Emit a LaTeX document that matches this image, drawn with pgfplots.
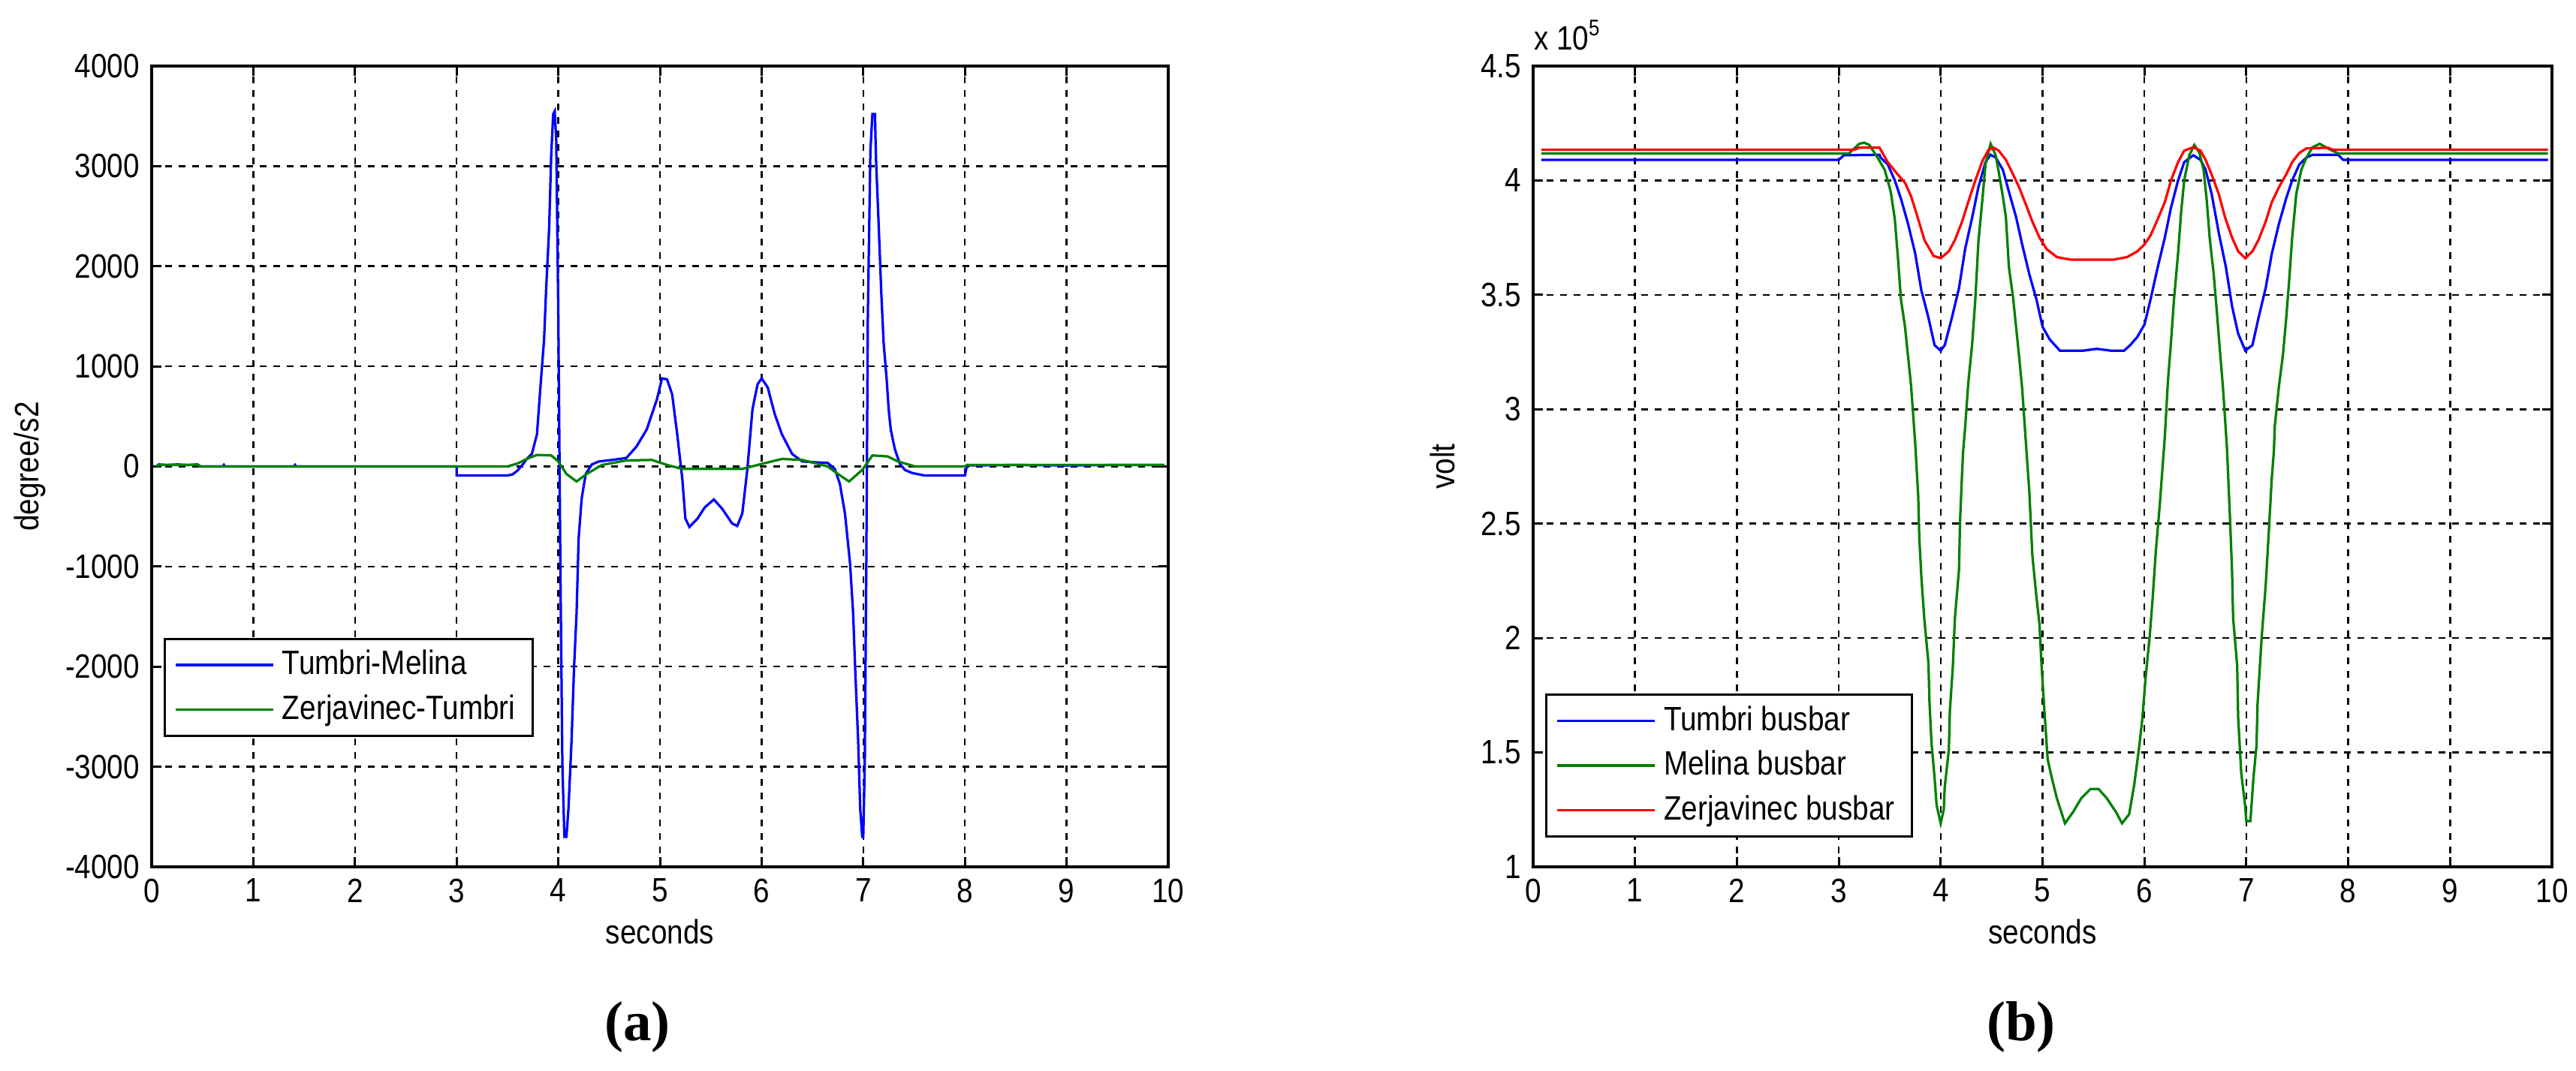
\documentclass[border=0pt]{standalone}
\usepackage{pgfplots}
\pgfplotsset{compat=1.18}
\usepackage{fontspec}
\setmainfont{Liberation Sans}[FakeStretch=0.86]
\newfontfamily\capfont{Liberation Serif}
\definecolor{mblue}{RGB}{0,0,255}
\definecolor{mgreen}{RGB}{0,128,0}
\definecolor{mred}{RGB}{255,0,0}
\pgfplotsset{
 mstyle/.style={
  scale only axis, anchor=south west,
  height=213.4pt,
  xmin=0, xmax=10, xtick={0,1,...,10},
  tick align=inside, tick pos=both,
  major tick length=2.6pt,
  grid=major,
  major grid style={black, line width=0.5pt, dash pattern=on 1.8pt off 1.8pt},
  axis line style={line width=0.7pt},
  every tick/.style={black, line width=0.6pt},
  /pgf/number format/assume math mode=true,
  /pgf/number format/1000 sep={},
  xlabel={seconds},
  xlabel style={at={(axis description cs:0.5,0)}, anchor=center, yshift=-17.2pt},
  legend cell align=left,
  legend image code/.code={\draw[##1] (0pt,0pt) -- (26pt,0pt);},
  legend style={draw=black, line width=0.6pt, fill=white, inner xsep=2.6pt, inner ysep=1pt, anchor=north west,
     nodes={inner sep=2pt, text depth=0.15em}},
 }
}
\begin{document}
\fontsize{9}{11}\selectfont
\begin{tikzpicture}
\useasboundingbox (0,0) rectangle (686.2pt,285.4pt);
% ---------------- (a) ----------------
\begin{axis}[mstyle, name=A, at={(40.4pt,54.4pt)}, width=270.8pt,
  ymin=-4000, ymax=4000, ytick={-4000,-3000,...,4000},
  ylabel={degree/s2},
  ylabel style={at={([xshift=-32.4pt]axis description cs:0,0.5)}, anchor=center},
  legend style={at={(rel axis cs:0.012,0.286)}}]
\addplot[mblue, line width=0.65pt] coordinates {
(0.05,0) (0.07,20) (0.15,15) (0.25,20) (0.35,15) (0.45,20) (0.48,0) (0.7,0) (0.71,15) (0.72,0)
(1.4,0) (1.41,15) (1.42,0) (3.0,0) (3.0,-90) (3.5,-90) (3.55,-80) (3.6,-40) (3.65,20)
(3.69,75) (3.74,125) (3.79,320) (3.83,870) (3.86,1265) (3.88,1760) (3.91,2380) (3.93,3100)
(3.95,3520) (3.965,3550) (3.98,3250) (4.0,1540) (4.02,-940) (4.04,-2980) (4.06,-3700)
(4.08,-3700) (4.1,-3420) (4.13,-2750) (4.155,-2010) (4.18,-1460) (4.2,-720) (4.23,-320)
(4.27,-75) (4.33,20) (4.4,50) (4.53,65) (4.67,85) (4.77,200) (4.87,370) (4.97,670) (5.02,880)
(5.07,870) (5.12,720) (5.17,320) (5.22,-125) (5.25,-520) (5.29,-605) (5.37,-520) (5.44,-410)
(5.53,-330) (5.61,-420) (5.71,-570) (5.76,-595) (5.81,-470) (5.86,-25) (5.91,570) (5.96,820)
(6.0,880) (6.06,790) (6.13,520) (6.2,320) (6.3,125) (6.4,50) (6.55,40) (6.65,35) (6.72,-25)
(6.77,-175) (6.82,-470) (6.87,-970) (6.9,-1460) (6.92,-2010) (6.95,-2750) (6.97,-3420)
(6.99,-3700) (7.0,-3700) (7.015,-2950) (7.03,-970) (7.045,1510) (7.07,3150) (7.09,3520)
(7.115,3520) (7.125,3080) (7.152,2400) (7.177,1740) (7.2,1240) (7.23,870) (7.25,570)
(7.27,370) (7.31,175) (7.36,25) (7.41,-35) (7.48,-65) (7.6,-90) (8.0,-90) (8.02,10)
(8.5,15) (9.0,10) (9.5,15) (9.96,15)
};
\addlegendentry{Tumbri-Melina}
\addplot[mgreen, line width=0.65pt] coordinates {
(0.05,0) (0.07,15) (0.45,15) (0.48,0) (3.5,0) (3.6,30) (3.69,75) (3.79,115) (3.93,110)
(4.0,50) (4.08,-75) (4.18,-150) (4.28,-75) (4.43,15) (4.67,60) (4.92,65) (5.07,15)
(5.22,-25) (5.81,-25) (6.0,25) (6.2,75) (6.4,65) (6.65,0) (6.75,-75) (6.86,-150) (6.99,-35)
(7.09,110) (7.24,100) (7.34,50) (7.51,0) (8.0,0) (8.02,15) (9.96,15)
};
\addlegendentry{Zerjavinec-Tumbri}
\end{axis}
% ---------------- (b) ----------------
\begin{axis}[mstyle, name=B, at={(408.4pt,54.4pt)}, width=271.4pt,
  ymin=1, ymax=4.5, ytick={1,1.5,...,4.5},
  ylabel={volt},
  ylabel style={at={([xshift=-24.2pt]axis description cs:0,0.5)}, anchor=center},
  legend style={at={(rel axis cs:0.012,0.216)}}]
\addplot[mblue, line width=0.65pt] coordinates {
(0.08,4.09) (3.0,4.09) (3.05,4.11) (3.4,4.112) (3.41,4.10) (3.48,4.07) (3.55,4.0) (3.61,3.92)
(3.68,3.81) (3.75,3.68) (3.81,3.52) (3.88,3.40) (3.94,3.28) (4.0,3.256) (4.04,3.28)
(4.11,3.40) (4.18,3.53) (4.24,3.70) (4.31,3.84) (4.37,3.97) (4.44,4.08) (4.49,4.112)
(4.54,4.10) (4.61,4.047) (4.67,3.95) (4.74,3.84) (4.8,3.72) (4.87,3.59) (4.94,3.48) (5.0,3.36)
(5.07,3.305) (5.17,3.256) (5.4,3.256) (5.53,3.264) (5.67,3.256) (5.8,3.256) (5.86,3.28)
(5.93,3.316) (6.0,3.37) (6.06,3.48) (6.13,3.62) (6.2,3.75) (6.26,3.88) (6.33,4.0) (6.39,4.08)
(6.48,4.11) (6.55,4.09) (6.6,4.047) (6.66,3.94) (6.73,3.77) (6.8,3.62) (6.86,3.45) (6.92,3.33)
(6.99,3.256) (7.06,3.28) (7.12,3.40) (7.19,3.53) (7.25,3.68) (7.32,3.81) (7.39,3.92)
(7.45,4.0) (7.52,4.07) (7.59,4.10) (7.65,4.112) (7.9,4.112) (7.95,4.09) (9.96,4.09)
};
\addlegendentry{Tumbri busbar}
\addplot[mgreen, line width=0.65pt] coordinates {
(0.08,4.118) (3.1,4.118) (3.2,4.16) (3.25,4.165) (3.3,4.155) (3.38,4.10) (3.45,4.047) (3.48,4.0)
(3.51,3.95) (3.55,3.83) (3.58,3.665) (3.61,3.48) (3.65,3.36) (3.68,3.23) (3.71,3.10)
(3.75,2.85) (3.78,2.617) (3.79,2.44) (3.81,2.27) (3.84,2.08) (3.88,1.89) (3.89,1.72)
(3.91,1.54) (3.94,1.39) (3.96,1.27) (4.0,1.19) (4.03,1.25) (4.04,1.35) (4.08,1.51) (4.09,1.68)
(4.12,1.88) (4.14,2.09) (4.18,2.30) (4.19,2.51) (4.21,2.72) (4.22,2.815) (4.24,2.92)
(4.27,3.11) (4.31,3.29) (4.34,3.48) (4.37,3.73) (4.41,3.92) (4.44,4.07) (4.49,4.16)
(4.54,4.11) (4.57,4.036) (4.61,3.93) (4.64,3.84) (4.67,3.62) (4.71,3.49) (4.74,3.36)
(4.77,3.23) (4.8,3.09) (4.84,2.83) (4.87,2.64) (4.9,2.36) (4.94,2.18) (4.97,2.06) (4.99,1.88)
(5.02,1.67) (5.05,1.47) (5.09,1.39) (5.14,1.30) (5.22,1.19) (5.30,1.24) (5.38,1.30)
(5.47,1.34) (5.55,1.34) (5.63,1.30) (5.72,1.24) (5.78,1.19) (5.85,1.23) (5.9,1.36) (5.95,1.53)
(5.98,1.65) (6.01,1.82) (6.05,2.0) (6.08,2.17) (6.11,2.37) (6.15,2.58) (6.18,2.76) (6.2,2.88)
(6.23,3.12) (6.26,3.29) (6.29,3.48) (6.33,3.68) (6.36,3.86) (6.39,4.0) (6.44,4.11)
(6.49,4.155) (6.54,4.12) (6.58,4.047) (6.61,3.92) (6.64,3.75) (6.68,3.59) (6.71,3.43)
(6.74,3.26) (6.77,3.10) (6.81,2.83) (6.84,2.52) (6.86,2.29) (6.87,2.09) (6.91,1.88)
(6.92,1.65) (6.95,1.41) (6.99,1.26) (7.0,1.20) (7.04,1.20) (7.07,1.39) (7.1,1.53) (7.11,1.71)
(7.15,2.0) (7.19,2.23) (7.22,2.46) (7.25,2.70) (7.27,2.815) (7.28,2.93) (7.32,3.10)
(7.36,3.24) (7.39,3.39) (7.42,3.56) (7.45,3.75) (7.49,3.94) (7.54,4.047) (7.59,4.10)
(7.65,4.145) (7.72,4.16) (7.8,4.14) (7.9,4.118) (9.96,4.118)
};
\addlegendentry{Melina busbar}
\addplot[mred, line width=0.65pt] coordinates {
(0.08,4.134) (3.15,4.134) (3.2,4.143) (3.4,4.143) (3.48,4.08) (3.58,4.025) (3.65,3.99)
(3.71,3.93) (3.78,3.83) (3.84,3.74) (3.93,3.67) (4.0,3.66) (4.08,3.69) (4.14,3.74) (4.21,3.82)
(4.27,3.905) (4.34,4.0) (4.41,4.085) (4.47,4.134) (4.52,4.143) (4.57,4.13) (4.64,4.09)
(4.7,4.036) (4.77,3.97) (4.84,3.89) (4.9,3.82) (4.97,3.75) (5.04,3.70) (5.14,3.665)
(5.27,3.654) (5.7,3.654) (5.83,3.665) (5.93,3.69) (6.0,3.72) (6.06,3.76) (6.13,3.83)
(6.2,3.905) (6.26,4.0) (6.33,4.08) (6.39,4.13) (6.48,4.145) (6.55,4.13) (6.6,4.09) (6.66,4.025)
(6.73,3.94) (6.79,3.84) (6.86,3.75) (6.92,3.69) (6.99,3.66) (7.06,3.69) (7.12,3.74) (7.19,3.82)
(7.25,3.905) (7.32,3.97) (7.39,4.025) (7.45,4.08) (7.52,4.12) (7.59,4.14) (7.8,4.143)
(7.85,4.134) (9.96,4.134)
};
\addlegendentry{Zerjavinec busbar}
\end{axis}
\node[anchor=base west, inner sep=0pt] at ([yshift=4.2pt]B.north west) {x 10\textsuperscript{5}};
\node[anchor=base, inner sep=0pt, font=\capfont\bfseries\fontsize{15}{18}\selectfont] at (169.8pt,8pt) {(a)};
\node[anchor=base, inner sep=0pt, font=\capfont\bfseries\fontsize{15}{18}\selectfont] at (538.4pt,8pt) {(b)};
\end{tikzpicture}
\end{document}
